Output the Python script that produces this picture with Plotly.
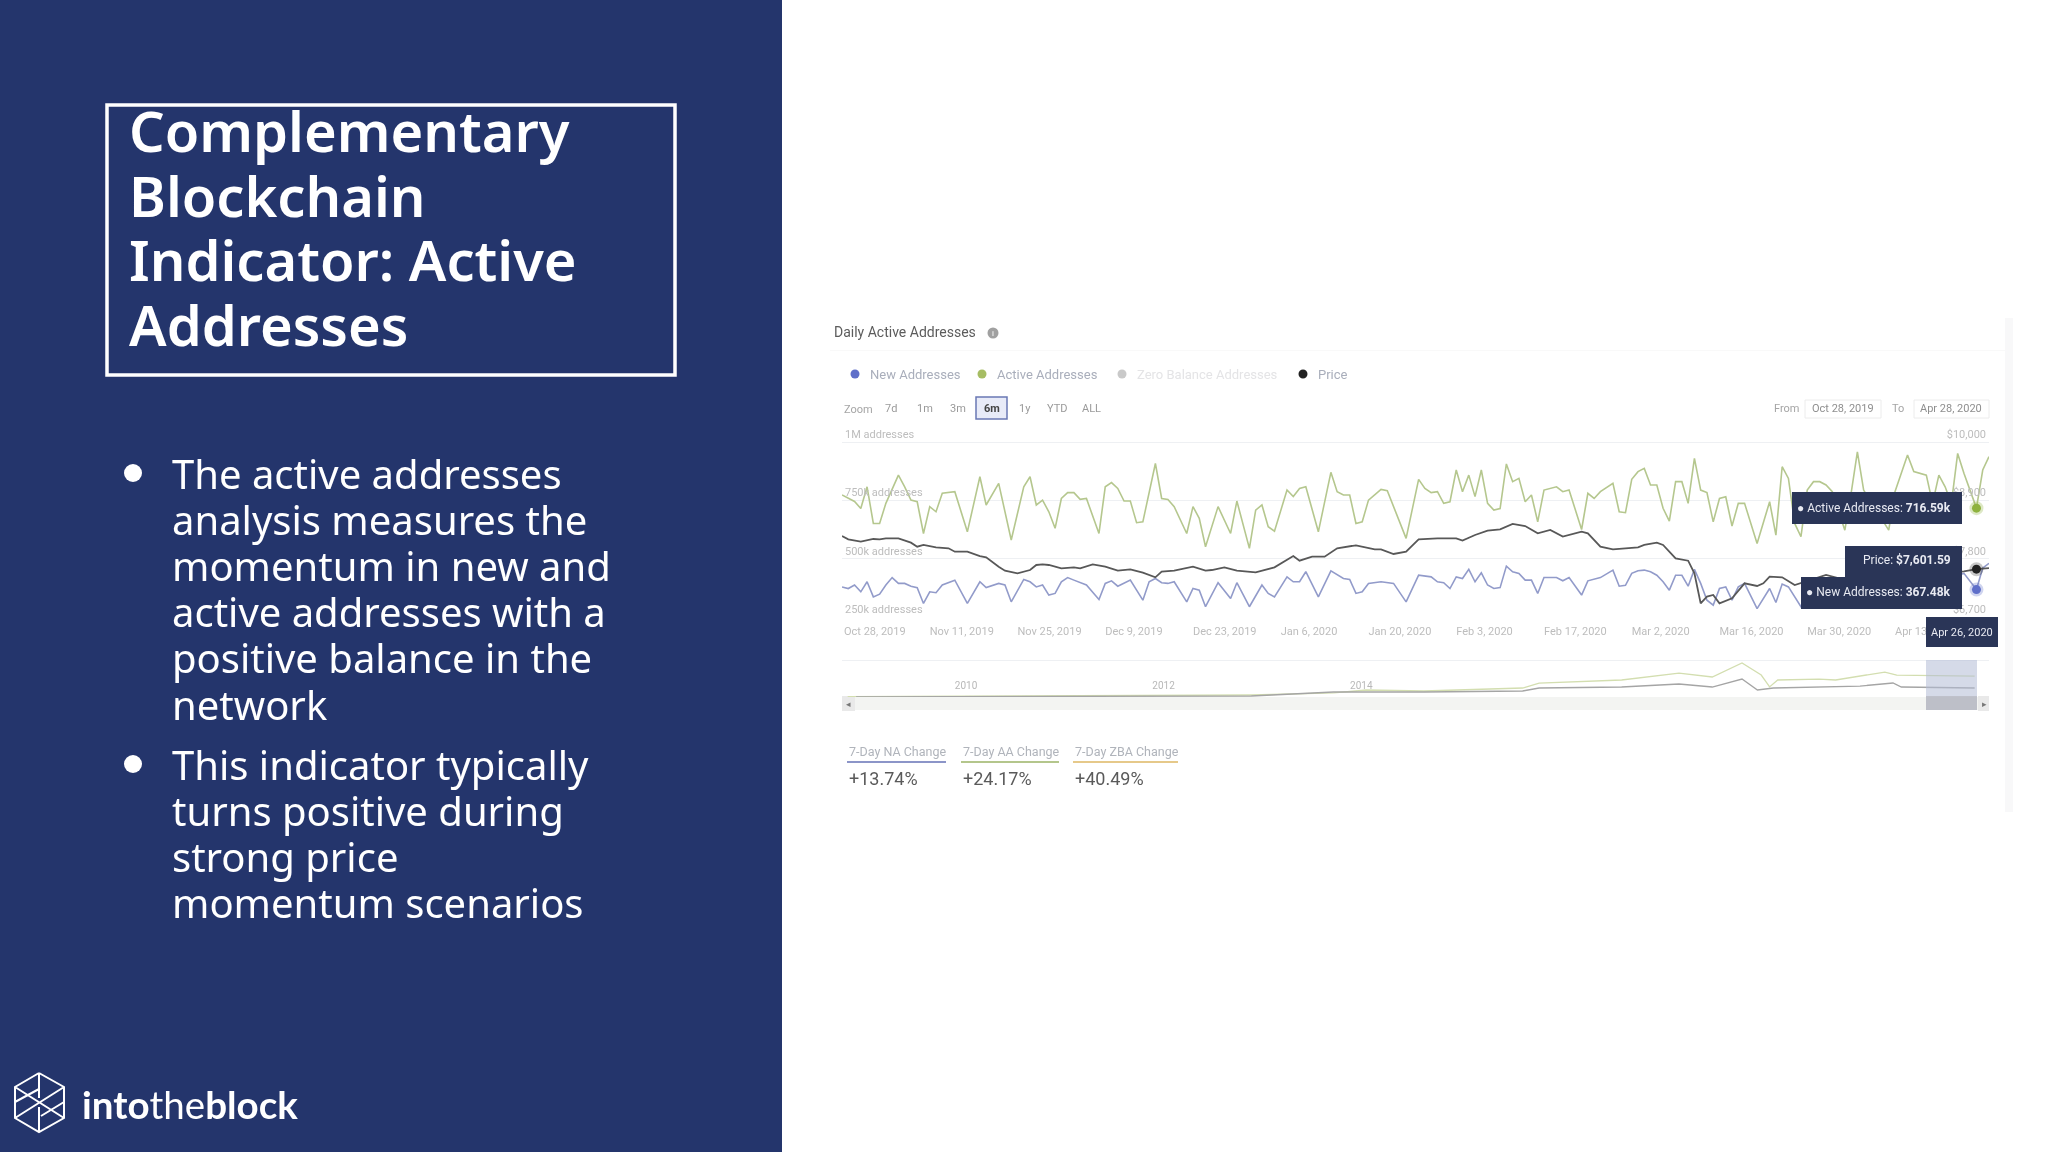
import pandas as pd
import plotly.graph_objects as go

W = 2048
H = 1152

# main chart (days since Oct 28 2019, addresses in thousands, price in USD)
start_date = pd.Timestamp("2019-10-28")

active_days = [0, 2, 3, 4, 5, 6, 7, 9, 10, 11, 12, 13, 14, 15, 16, 18, 20, 22, 23, 25, 27, 29, 30, 31,
               32, 33, 34, 35, 36, 37, 38, 39, 41, 42, 43, 44, 45, 46, 47, 48, 50, 51, 52, 53, 55, 56, 57, 58, 60, 62, 63,
               65, 66, 67, 68, 69, 71, 72, 73, 74, 76, 78, 79, 80, 81, 82, 83, 84, 86, 87, 90, 92, 93, 94, 95,
               96, 97, 98, 99, 100, 101, 102, 103, 104, 105, 106, 107, 108, 109, 110, 111, 112, 114, 115, 116, 118, 119, 120, 121, 123, 124, 125, 126, 127,
               128, 129, 130, 131, 132, 133, 134, 135, 136, 137, 138, 139, 140, 141, 142, 143, 144, 146, 148, 149, 150, 151, 152, 153, 154, 155, 156, 157, 158,
               160, 161, 162, 163, 167, 168, 170, 171, 172, 173, 174, 175, 176, 177, 178, 179, 181, 182, 183]
active_values = [773, 745, 715, 808, 651, 651, 737, 858, 808, 751, 744, 608, 723, 701, 780, 787, 615, 851, 730, 823, 580, 808, 851, 730,
                 751, 701, 630, 758, 783, 783, 754, 758, 608, 808, 826, 801, 747, 747, 654, 658, 908, 758, 754, 723, 608, 723, 673, 551, 723, 608, 747,
                 544, 708, 730, 637, 618, 794, 766, 801, 808, 615, 870, 787, 773, 773, 651, 658, 751, 797, 791, 587, 840, 801, 783, 787,
                 737, 744, 880, 787, 858, 766, 880, 737, 708, 715, 906, 830, 844, 744, 773, 658, 794, 808, 787, 794, 625, 780, 758, 787, 823, 701, 697, 840, 873,
                 887, 816, 816, 716, 661, 830, 830, 737, 930, 794, 783, 658, 758, 765, 640, 737, 737, 565, 744, 601, 894, 844, 651, 594, 794, 830, 830, 816, 787,
                 622, 780, 958, 794, 622, 787, 944, 873, 866, 858, 737, 858, 808, 737, 951, 866, 716.59, 880, 937]

new_days = [0, 1, 2, 3, 4, 5, 6, 7, 8, 9, 10, 11, 12, 13, 14, 15, 16, 18, 20, 22, 23, 25, 26, 27, 29, 30, 31,
            32, 33, 34, 35, 36, 37, 38, 39, 41, 42, 43, 44, 46, 48, 49, 50, 51, 52, 53, 55, 56, 57, 58, 60, 62, 63,
            65, 67, 68, 69, 71, 72, 73, 74, 76, 78, 80, 81, 82, 83, 84, 86, 88, 90, 92, 94, 95,
            96, 97, 98, 99, 100, 101, 102, 103, 104, 105, 106, 107, 108, 109, 110, 111, 112, 114, 115, 116, 118, 119, 120, 121, 123, 124, 125, 126, 127,
            128, 129, 130, 131, 132, 133, 134, 135, 136, 137, 138, 139, 140, 141, 142, 143, 144, 146, 148, 149, 150, 151, 152, 153, 154, 156, 158,
            160, 162, 164, 166, 168, 170, 172, 174, 176, 178, 179, 181, 182, 183]
new_values = [379, 372, 387, 358, 401, 336, 348, 387, 419, 394, 394, 382, 376, 308, 358, 354, 387, 408, 308, 401, 376, 394, 387, 315, 411, 401, 379,
              387, 344, 351, 401, 419, 408, 397, 387, 325, 394, 405, 382, 408, 322, 401, 415, 397, 394, 401, 315, 372, 365, 294, 397, 329, 397,
              294, 387, 351, 336, 422, 401, 401, 444, 336, 448, 415, 411, 351, 358, 394, 401, 394, 315, 429, 422, 401,
              397, 372, 422, 415, 454, 401, 439, 387, 372, 376, 468, 444, 437, 408, 408, 351, 419, 419, 405, 419, 344, 405, 411, 419, 451, 382, 386, 437, 448,
              451, 444, 429, 401, 365, 429, 429, 382, 454, 394, 322, 301, 372, 379, 322, 379, 394, 286, 372, 312, 391, 379, 336, 294, 336, 365, 336,
              340, 420, 370, 340, 400, 430, 400, 360, 400, 430, 437, 367.48, 460, 480]

price_days = [0, 1, 3, 5, 6, 7, 9, 11, 12, 13, 15, 17, 18, 20, 22, 23, 25, 26, 28, 30, 31,
              32, 33, 35, 37, 38, 40, 42, 44, 46, 48, 50, 51, 53, 56, 58, 59, 61, 63,
              66, 69, 72, 73, 75, 77, 79, 82, 85, 86, 88, 90, 92, 95,
              98, 99, 101, 103, 105, 107, 109, 111, 113, 115, 118, 119, 121, 123, 125, 127,
              128, 130, 131, 133, 135, 136, 137, 138, 139, 140, 142, 144, 146, 147, 148, 150, 152, 157,
              160, 165, 170, 175, 179, 181, 183]
price_values = [8228, 8165, 8121, 8171, 8165, 8184, 8184, 8102, 8026, 8058, 8014, 7995, 7932, 7932, 7850, 7825, 7649, 7574, 7524, 7586, 7681,
                7693, 7681, 7618, 7637, 7618, 7693, 7649, 7574, 7599, 7536, 7448, 7555, 7574, 7649, 7574, 7586, 7637, 7574,
                7542, 7637, 7850, 7762, 7838, 7838, 7995, 8052, 7976, 7976, 7888, 7932, 8165, 8184,
                8184, 8140, 8246, 8328, 8353, 8454, 8416, 8278, 8341, 8215, 8309, 8278, 8026, 7976, 7995, 8014,
                8058, 8102, 8058, 7806, 7762, 7524, 6958, 7084, 7115, 6958, 7052, 7335, 7285, 7335, 7461, 7448, 7303, 7492,
                7400, 7500, 7450, 7500, 7560, 7601.59, 7620]

left_ticks = [250, 500, 750, 1000]
left_labels = ["250k addresses", "500k addresses", "750k addresses", "1M addresses"]
price_ticks = [6700, 7800, 8900, 10000]
price_labels = ["$6,700", "$7,800", "$8,900", "$10,000"]

# navigator strip under the chart
nav_top_dates = ["2008-12-01", "2013-01-01", "2013-11-01", "2014-03-01", "2014-10-01", "2015-10-01", "2015-12-01", "2016-10-01",
                 "2017-05-01", "2017-09-01", "2017-12-20", "2018-03-01", "2018-04-01", "2018-05-01", "2018-10-01", "2018-12-01",
                 "2019-06-01", "2019-07-15", "2020-04-28"]
nav_top_values = [10, 60, 120, 208, 178, 267, 415, 505, 712, 594, 1010, 653, 300, 505, 534, 505, 742, 653, 620]
nav_low_dates = ["2009-01-01", "2013-01-01", "2013-11-01", "2014-10-01", "2015-10-01", "2015-12-01", "2016-10-01", "2017-05-01",
                 "2017-09-01", "2017-12-20", "2018-02-15", "2018-04-15", "2019-03-01", "2019-07-01", "2019-08-01", "2020-04-28"]
nav_low_values = [5, 30, 148, 148, 178, 267, 297, 386, 297, 534, 208, 267, 326, 416, 297, 267]
nav_years = ["2010-01-01", "2012-01-01", "2014-01-01"]
nav_year_labels = ["2010", "2012", "2014"]

zoom_labels = ["7d", "1m", "3m", "6m", "1y", "YTD", "ALL"]
stat_names = ["7-Day NA Change", "7-Day AA Change", "7-Day ZBA Change"]
stat_values = ["+13.74%", "+24.17%", "+40.49%"]
legend_names = ["New Addresses", "Active Addresses", "Zero Balance Addresses", "Price"]

title_lines = ["Complementary", "Blockchain", "Indicator: Active", "Addresses"]
bullet_one = ["The active addresses", "analysis measures the", "momentum in new and", "active addresses with a",
              "positive balance in the", "network"]
bullet_two = ["This indicator typically", "turns positive during", "strong price", "momentum scenarios"]

NAVY = "#24356c"
GREEN = "#b5c78e"
BLUE = "#929bca"
DARK = "#585858"
TIP = "#2a3557"
SANS = "Roboto"
SLIDE = "Noto Sans"


def px(x):
    return x / W


def py(y):
    return 1 - y / H


def dates(days):
    return [start_date + pd.Timedelta(days=d) for d in days]


shapes = []
annotations = []


def rect(x0, y0, x1, y1, fill="rgba(0,0,0,0)", line=None, width=1, layer="below"):
    shapes.append(dict(type="rect", xref="paper", yref="paper", x0=px(x0), x1=px(x1), y0=py(y0), y1=py(y1),
                       fillcolor=fill, line=dict(color=line or fill, width=width if line else 0), layer=layer))


def dot(x, y, r, color, layer="below"):
    shapes.append(dict(type="circle", xref="paper", yref="paper", x0=px(x - r), x1=px(x + r), y0=py(y + r), y1=py(y - r),
                       fillcolor=color, line=dict(width=0), layer=layer))


def label(x, y, text, size, color, anchor="left", family=SANS, weight=None):
    annotations.append(dict(xref="paper", yref="paper", x=px(x), y=py(y), text=text, showarrow=False,
                            xanchor=anchor, yanchor="middle", align=anchor,
                            font=dict(family=family, size=size, color=color, weight=weight)))


# left panel
rect(0, 0, 782, 1152, fill=NAVY)
rect(107, 105, 675, 375, line="white", width=3.5)
for i, text in enumerate(title_lines):
    label(127, 130 + i * 64.5, text, 56, "white", family=SLIDE, weight=600)
for i, text in enumerate(bullet_one):
    label(170, 473 + i * 46.2, text, 40, "white", family=SLIDE)
for i, text in enumerate(bullet_two):
    label(170, 764 + i * 46.2, text, 40, "white", family=SLIDE)
dot(133, 473, 9, "white")
dot(133, 764, 9, "white")

# logo, drawn in page pixels
logo_strokes = [[(39, 1073), (15, 1087), (15, 1118), (39, 1132), (64, 1118), (64, 1087), (39, 1073)],
                [(39, 1073), (39, 1098)], [(15, 1087), (64, 1118)], [(15, 1118), (64, 1087)],
                [(39, 1132), (39, 1107)], [(15, 1102), (39, 1089)], [(64, 1102), (41, 1116)]]
logo_path = ""
for stroke in logo_strokes:
    logo_path += " M " + " L ".join(f"{px(x)} {py(y)}" for x, y in stroke)
shapes.append(dict(type="path", xref="paper", yref="paper", path=logo_path.strip(), line=dict(color="white", width=2)))
label(80, 1104, "<b>into</b>the<b>block</b>", 38.5, "white", family="Lato")
LEFT_COUNT = len(annotations)

# card edge on the right
rect(2005, 318, 2013, 812, fill="#f8f8f9")
rect(830, 350, 2005, 351, fill="#f9f9f9")

# chart header
label(832, 332, "Daily Active Addresses", 14, "#5c5c5c")
dot(993, 333, 5.5, "#a0a0a0")
label(993, 333, "i", 8, "white", anchor="center")

legend_x = [855, 982, 1122, 1303]
legend_dot = ["#5f6fc9", "#a6bd63", "#c9c9c9", "#222222"]
legend_text = ["#a9aebb", "#a9aebb", "#e4e4e6", "#a9aebb"]
for x, name, color, tcolor in zip(legend_x, legend_names, legend_dot, legend_text):
    dot(x, 374, 4.5, color)
    label(x + 13, 374, name, 13, tcolor)

label(842, 409, "Zoom", 11, "#a5a5a5")
zoom_x = [891, 925, 958, 992, 1025, 1057, 1091]
rect(976, 397, 1007, 419, fill="#e8ebf8", line="#6a78b4", width=1.5)
for x, name in zip(zoom_x, zoom_labels):
    label(x, 408, "<b>6m</b>" if name == "6m" else name, 11, "#444444" if name == "6m" else "#9a9a9a", anchor="center")

label(1786, 408, "From", 11, "#a5a5a5", anchor="center")
rect(1805, 400, 1881, 418, fill="white", line="#ececec")
label(1843, 408, "Oct 28, 2019", 11, "#8f8f8f", anchor="center")
label(1898, 408, "To", 11, "#a5a5a5", anchor="center")
rect(1914, 400, 1989, 418, fill="white", line="#ececec")
label(1951, 408, "Apr 28, 2020", 11, "#8f8f8f", anchor="center")

# first date label, the axis drops the one sitting on its left end
label(842, 631, "Oct 28, 2019", 11, "#bdbdbd")

# navigator furniture
rect(842, 660, 1989, 661, fill="#eef0f3")
rect(842, 697, 1989, 710, fill="#f3f4f2")
rect(842, 696, 855, 711, fill="#e9e9e9")
rect(1978, 696, 1989, 711, fill="#e9e9e9")
label(848, 704, "◂", 9, "#777777", anchor="center")
label(1984, 704, "▸", 9, "#777777", anchor="center")
rect(1926, 660, 1977, 710, fill="rgba(178,188,214,0.55)", layer="above")
rect(1926, 696, 1977, 710, fill="rgba(170,170,175,0.5)", layer="above")

# stats under the chart
stat_x = [847, 961, 1073]
stat_end = [946, 1059, 1178]
stat_rule = ["#8c95c8", "#b4c68c", "#e6c98a"]
for x, end, name, value, color in zip(stat_x, stat_end, stat_names, stat_values, stat_rule):
    label(x, 751, name, 12.5, "#b0b4bb")
    rect(x, 761, end, 763, fill=color)
    label(x, 778, value, 18, "#5a5a5a")

# tooltips
rect(1792, 492, 1962, 524, fill=TIP, layer="above")
rect(1845, 546, 1962, 578, fill=TIP, layer="above")
rect(1801, 577, 1962, 609, fill=TIP, layer="above")
rect(1926, 617, 1998, 647, fill=TIP, layer="above")
label(1953, 508, "● Active Addresses: <b>716.59k</b>", 12, "#e8eaf2", anchor="right")
label(1953, 560, "Price: <b>$7,601.59</b>", 12, "#e8eaf2", anchor="right")
label(1953, 592, "● New Addresses: <b>367.48k</b>", 12, "#e8eaf2", anchor="right")
label(1962, 632, "Apr 26, 2020", 11, "#e8eaf2", anchor="center")

fig = go.Figure()
fig.add_trace(go.Scatter(x=dates(active_days), y=active_values, mode="lines", name="Active Addresses",
                         line=dict(color=GREEN, width=1.6), xaxis="x", yaxis="y"))
fig.add_trace(go.Scatter(x=dates(new_days), y=new_values, mode="lines", name="New Addresses",
                         line=dict(color=BLUE, width=1.6), xaxis="x", yaxis="y"))
fig.add_trace(go.Scatter(x=dates(price_days), y=price_values, mode="lines", name="Price",
                         line=dict(color=DARK, width=1.8), xaxis="x", yaxis="y2"))

# hover markers on Apr 26
marker_day = dates([181])
fig.add_trace(go.Scatter(x=marker_day, y=[716.59], mode="markers", xaxis="x", yaxis="y",
                         marker=dict(color="#8fb23f", size=9, line=dict(color="rgba(143,178,63,0.3)", width=5))))
fig.add_trace(go.Scatter(x=marker_day, y=[367.48], mode="markers", xaxis="x", yaxis="y",
                         marker=dict(color="#5f6fc9", size=9, line=dict(color="rgba(95,111,201,0.3)", width=5))))
fig.add_trace(go.Scatter(x=marker_day, y=[7601.59], mode="markers", xaxis="x", yaxis="y2",
                         marker=dict(color="#222222", size=9, line=dict(color="rgba(34,34,34,0.25)", width=5))))

fig.add_trace(go.Scatter(x=nav_top_dates, y=nav_top_values, mode="lines", line=dict(color="#d3deb0", width=1.3), xaxis="x2", yaxis="y3"))
fig.add_trace(go.Scatter(x=nav_low_dates, y=nav_low_values, mode="lines", line=dict(color="#a5a5a5", width=1.3), xaxis="x2", yaxis="y3"))

axis_font = dict(family=SANS, size=11, color="#bdbdbd")
fig.update_layout(
    width=W,
    height=H,
    margin=dict(l=0, r=0, t=0, b=0, autoexpand=False),
    paper_bgcolor="white",
    plot_bgcolor="rgba(0,0,0,0)",
    showlegend=False,
    shapes=shapes,
    annotations=annotations,
    # top of the plot runs past the 1M gridline so its inside label is not dropped
    xaxis=dict(domain=[px(842), px(1989)], range=[start_date, start_date + pd.Timedelta(days=183)],
               anchor="y", tick0=start_date, dtick=14 * 86400000, tickformat="%b %-d, %Y", ticklabelposition="outside right",
               ticklabelstandoff=6, showgrid=False, zeroline=False, showline=False, tickfont=axis_font, ticklen=0,
               automargin=False),
    yaxis=dict(domain=[py(617), py(428)], range=[250, 1060], tickvals=left_ticks, ticktext=left_labels, anchor="x",
               ticklabelposition="inside top", gridcolor="#eef0f3", zeroline=False, tickfont=axis_font, automargin=False),
    yaxis2=dict(domain=[py(617), py(428)], range=[6700, 10264], tickvals=price_ticks, ticktext=price_labels, anchor="x",
                overlaying="y", side="right", ticklabelposition="inside top", showgrid=False, zeroline=False,
                tickfont=axis_font, automargin=False),
    xaxis2=dict(domain=[px(842), px(1989)], range=["2008-11-10", "2020-06-20"], anchor="y3", tickvals=nav_years,
                ticktext=nav_year_labels, ticklabelposition="inside right", showgrid=False, zeroline=False,
                showline=False, ticklen=0, tickfont=dict(family=SANS, size=10, color="#b8b8b8"), automargin=False),
    yaxis3=dict(domain=[py(697), py(660)], range=[0, 1100], anchor="x2", visible=False),
)

post = f"""
document.body.style.margin='0';
document.body.style.overflow='hidden';
document.querySelectorAll('.cartesianlayer').forEach(function(g){{g.style.filter='blur(0.7px)';}});
document.querySelectorAll('.annotation').forEach(function(a,i){{if(i>={LEFT_COUNT})a.style.filter='blur(0.7px)';}});
"""
fig.write_html("out.html", post_script=post, config=dict(displayModeBar=False))
